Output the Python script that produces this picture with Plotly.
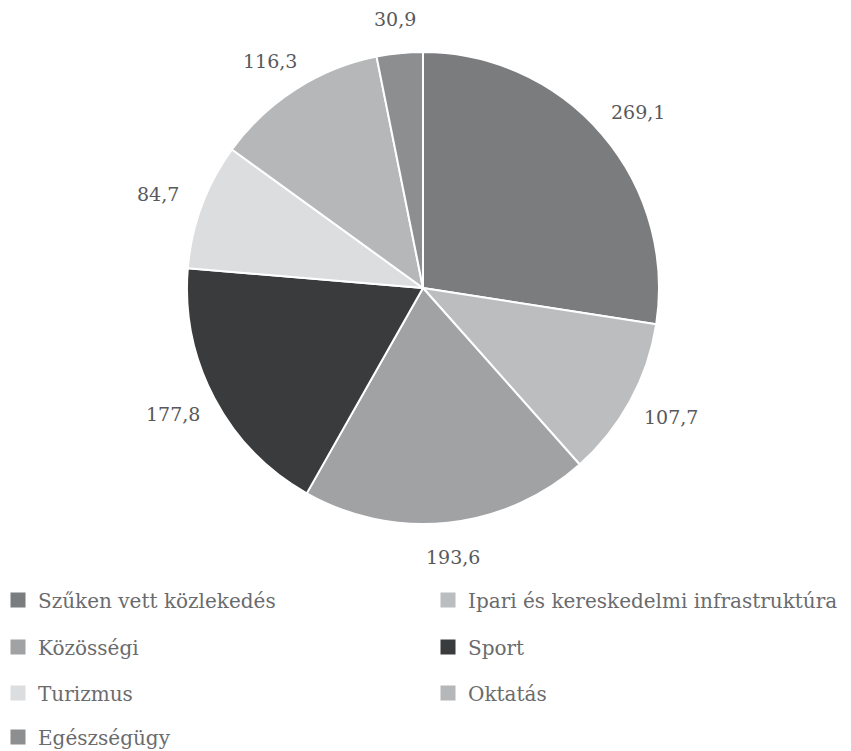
import math
import plotly.graph_objects as go

categories = ["Szűken vett közlekedés", "Ipari és kereskedelmi infrastruktúra", "Közösségi",
              "Sport", "Turizmus", "Oktatás", "Egészségügy"]
values = [269.1, 107.7, 193.6, 177.8, 84.7, 116.3, 30.9]
value_labels = ["269,1", "107,7", "193,6", "177,8", "84,7", "116,3", "30,9"]
colors = ["#7b7c7e", "#bcbdbf", "#a1a2a4", "#3a3b3d", "#dcdddf", "#b6b7b9", "#8d8e90"]

OFF = 8  # browser default body margin
W, H = 851 - OFF, 751 - OFF
cx, cy, R = 423, 288, 236   # screen pixels
FONT = "DejaVu Serif"
LBL = "#58595b"
LEG = "#6a6b6d"


def px_x(X):
    return (X - OFF) / W


def px_y(Y):
    return 1 - (Y - OFF) / H


fig = go.Figure()
fig.add_trace(go.Pie(
    labels=categories, values=values, sort=False, direction="clockwise", rotation=0,
    marker=dict(colors=colors, line=dict(color="white", width=2)),
    textinfo="none", hoverinfo="label+value", showlegend=False,
    domain=dict(x=[px_x(cx - R), px_x(cx + R)], y=[px_y(cy + R), px_y(cy - R)]),
))

# outside value labels, positioned from the data angles
total = sum(values)
cum = 0
rx, ry = 283, 270
for v, lab in zip(values, value_labels):
    mid = (cum + v / 2) / total * 2 * math.pi
    cum += v
    X = cx + rx * math.sin(mid)
    Y = cy - ry * math.cos(mid)
    fig.add_annotation(x=px_x(X), y=px_y(Y), xref="paper", yref="paper", text=lab,
                       showarrow=False, xanchor="center", yanchor="middle",
                       font=dict(family=FONT, size=19, color=LBL))

# legend: two columns x four rows, one small legend per entry
col_x = [-2, 428]
row_y = [600, 647, 693, 737]
layout_legends = {}
for i, (cat, col) in enumerate(zip(categories, colors)):
    name = "legend" if i == 0 else f"legend{i + 1}"
    fig.add_trace(go.Scatter(
        x=[None], y=[None], mode="markers", name=cat,
        marker=dict(symbol="square", size=15, color=col),
        legend=name, showlegend=True, hoverinfo="skip",
    ))
    layout_legends[name] = dict(
        orientation="h", xanchor="left", yanchor="middle",
        x=px_x(col_x[i % 2]), y=px_y(row_y[i // 2]),
        font=dict(family=FONT, size=20, color=LEG), itemwidth=30,
        bgcolor="rgba(0,0,0,0)")

fig.update_layout(
    width=W, height=H, paper_bgcolor="white", plot_bgcolor="white",
    margin=dict(l=0, r=0, t=0, b=0, autoexpand=False),
    font=dict(family=FONT, size=20, color=LEG),
    xaxis=dict(visible=False), yaxis=dict(visible=False),
    **layout_legends,
)

fig.write_html("out.html")
